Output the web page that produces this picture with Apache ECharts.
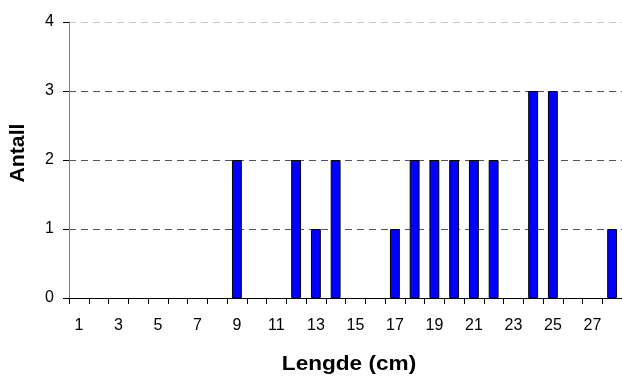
<!DOCTYPE html>
<html>
<head>
<meta charset="utf-8">
<script src="https://cdn.jsdelivr.net/npm/echarts@6/dist/echarts.min.js"></script>
<style>
  html, body { margin: 0; padding: 0; background: #fff; }
  #chart { width: 622px; height: 376px; }
</style>
</head>
<body>
<div id="chart"></div>
<script>
// Length classes in cm and the number of fish counted in each
const lengths = ['1','2','3','4','5','6','7','8','9','10','11','12','13','14',
                 '15','16','17','18','19','20','21','22','23','24','25','26','27','28'];
const counts = [0,0,0,0,0,0,0,0,2,0,0,2,1,2,0,0,1,2,2,2,2,2,0,3,3,0,0,1];
const yTicks = [0, 1, 2, 3, 4];
const xTitle = 'Lengde (cm)';
const yTitle = 'Antall';

const chart = echarts.init(document.getElementById('chart'));
const font = 'Liberation Sans, Arial, sans-serif';
const titleFont = 'bold 20px ' + font;

chart.setOption({
  animation: false,
  backgroundColor: '#ffffff',
  grid: { left: 69, right: 0, top: 22, bottom: 78, outerBoundsMode: 'none' },
  // axis titles, set in a slightly wide bold face
  graphic: [
    {
      type: 'text', x: 349, y: 364, scaleX: 1.13, silent: true,
      style: { text: xTitle, font: titleFont, fill: '#000',
               textAlign: 'center', textVerticalAlign: 'middle' }
    },
    {
      type: 'text', x: 18, y: 153, rotation: Math.PI / 2, scaleX: 1.06, silent: true,
      style: { text: yTitle, font: titleFont, fill: '#000',
               textAlign: 'center', textVerticalAlign: 'middle' }
    }
  ],
  xAxis: {
    type: 'category',
    data: lengths,
    boundaryGap: true,
    axisLine: { lineStyle: { color: '#000', width: 1 } },
    axisTick: { show: true, interval: 0, length: 6, lineStyle: { color: '#000' } },
    axisLabel: { interval: 1, margin: 20, fontFamily: font, fontSize: 16, color: '#000' },
    splitLine: { show: false }
  },
  yAxis: {
    type: 'value',
    min: yTicks[0],
    max: yTicks[yTicks.length - 1],
    interval: 1,
    axisLine: { show: true, lineStyle: { color: '#808080', width: 1 } },
    axisTick: { show: true, length: 6, lineStyle: { color: '#000' } },
    axisLabel: { margin: 15, fontFamily: font, fontSize: 16, color: '#000' },
    splitLine: {
      show: true,
      showMinLine: false,
      lineStyle: {
        color: ['#555555', '#555555', '#555555', '#c8c8c8'],
        type: [7, 5],
        width: 1
      }
    }
  },
  series: [{
    type: 'bar',
    // empty classes get no bar at all
    data: counts.map(v => (v === 0 ? '-' : v)),
    barWidth: '50%',
    itemStyle: { color: '#0000ff', borderColor: '#000', borderWidth: 1 }
  }]
});
</script>
</body>
</html>
